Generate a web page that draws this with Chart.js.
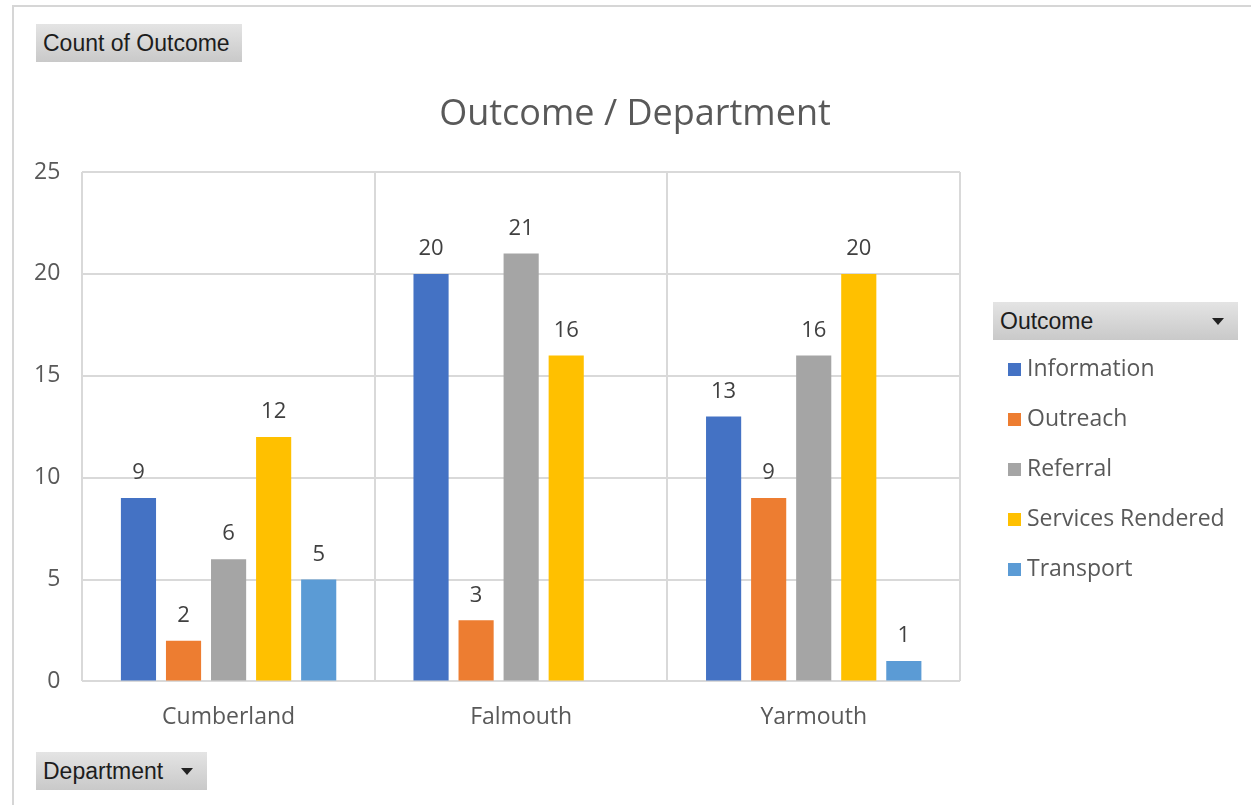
<!DOCTYPE html>
<html>
<head>
<meta charset="utf-8">
<script src="https://cdn.jsdelivr.net/npm/chart.js@4"></script>
<style>
  body { margin: 0; background: #fff; width: 1251px; height: 805px; overflow: hidden; position: relative; }
  #frame { position: absolute; left: 12px; top: 5px; right: -4px; bottom: -4px; border-left: 2px solid #d6d6d6; border-top: 2px solid #d6d6d6; }
  canvas { position: absolute; left: 0; top: 0; }
  #title { position: absolute; left: 335px; width: 600px; top: 89px; text-align: center; font-family: "Open Sans", sans-serif; font-size: 36px; line-height: 46px; color: #595959; }
  .pill { position: absolute; height: 38px; line-height: 38px; background: linear-gradient(#e4e4e4, #c9c9c9);
          font-family: "Liberation Sans Narrow", "Liberation Sans", Arial, sans-serif; font-size: 23px; color: #1d1d1d;
          padding-left: 7px; box-sizing: border-box; }
  .pill .tri { position: absolute; top: 16px; width: 0; height: 0; border-left: 6px solid transparent; border-right: 6px solid transparent; border-top: 7px solid #222; }
  #legend { position: absolute; left: 1008px; top: 352px; font-family: "Open Sans", sans-serif; font-size: 23px; color: #595959; }
  #legend .item { height: 50px; line-height: 30px; white-space: nowrap; }
  #legend .sw { display: inline-block; width: 13px; height: 13px; margin-right: 6px; vertical-align: 0px; }
</style>
</head>
<body>
<div id="frame"></div>
<canvas id="chart" width="1251" height="805"></canvas>
<div id="title">Outcome / Department</div>
<div class="pill" style="left:36px; top:24px; width:206px;">Count of Outcome</div>
<div class="pill" style="left:993px; top:302px; width:245px;">Outcome<span class="tri" style="left:219px;"></span></div>
<div class="pill" style="left:36px; top:752px; width:171px;">Department<span class="tri" style="left:145px;"></span></div>
<div id="legend"></div>
<script>
const departments = ["Cumberland", "Falmouth", "Yarmouth"];
const outcomes = ["Information", "Outreach", "Referral", "Services Rendered", "Transport"];
const outcomeColors = ["#4472C4", "#ED7D31", "#A5A5A5", "#FFC000", "#5B9BD5"];

const information = [9, 20, 13];
const outreach = [2, 3, 9];
const referral = [6, 21, 16];
const servicesRendered = [12, 16, 20];
const transport = [5, null, 1];

const seriesValues = [information, outreach, referral, servicesRendered, transport];
const yTicks = [0, 5, 10, 15, 20, 25];

// value labels above the bars
const barLabels = {
    id: 'barLabels',
    afterDatasetsDraw(chart) {
        const ctx = chart.ctx;
        ctx.save();
        ctx.font = '22px "Open Sans", sans-serif';
        ctx.fillStyle = '#404040';
        ctx.textAlign = 'center';
        ctx.textBaseline = 'bottom';
        chart.data.datasets.forEach((ds, i) => {
            chart.getDatasetMeta(i).data.forEach((bar, j) => {
                if (ds.data[j] == null) return;
                ctx.fillText(ds.data[j], bar.x, bar.y - 14);
            });
        });
        ctx.restore();
    }
};

let chart = new Chart(document.getElementById("chart").getContext("2d"), {
    type: 'bar',
    data: {
        labels: departments,
        datasets: outcomes.map((name, i) => ({
            label: name,
            data: seriesValues[i],
            backgroundColor: outcomeColors[i],
            categoryPercentage: 0.77,
            barPercentage: 0.78
        }))
    },
    options: {
        responsive: false,
        animation: false,
        layout: {
            padding: {top: 172, bottom: 52, left: 12, right: 291}
        },
        plugins: {
            legend: { display: false },
            tooltip: { enabled: false },
            title: { display: false }
        },
        scales: {
            x: {
                grid: { color: '#d9d9d9', lineWidth: 2, drawTicks: false },
                border: { display: false },
                ticks: { color: '#595959', padding: 22, font: { family: '"Open Sans", sans-serif', size: 23 } }
            },
            y: {
                min: 0,
                max: 25,
                afterBuildTicks: axis => { axis.ticks = yTicks.map(v => ({value: v})); },
                grid: { color: '#d9d9d9', lineWidth: 2, drawTicks: false },
                border: { display: false },
                ticks: { color: '#595959', padding: 22, font: { family: '"Open Sans", sans-serif', size: 23 } }
            }
        }
    },
    plugins: [barLabels]
});

// legend built from the same series
let legendEl = document.getElementById("legend");
outcomes.forEach((name, i) => {
    let item = document.createElement("div");
    item.className = "item";
    item.innerHTML = `<span class="sw" style="background:${outcomeColors[i]}"></span>${name}`;
    legendEl.appendChild(item);
});
</script>
</body>
</html>
